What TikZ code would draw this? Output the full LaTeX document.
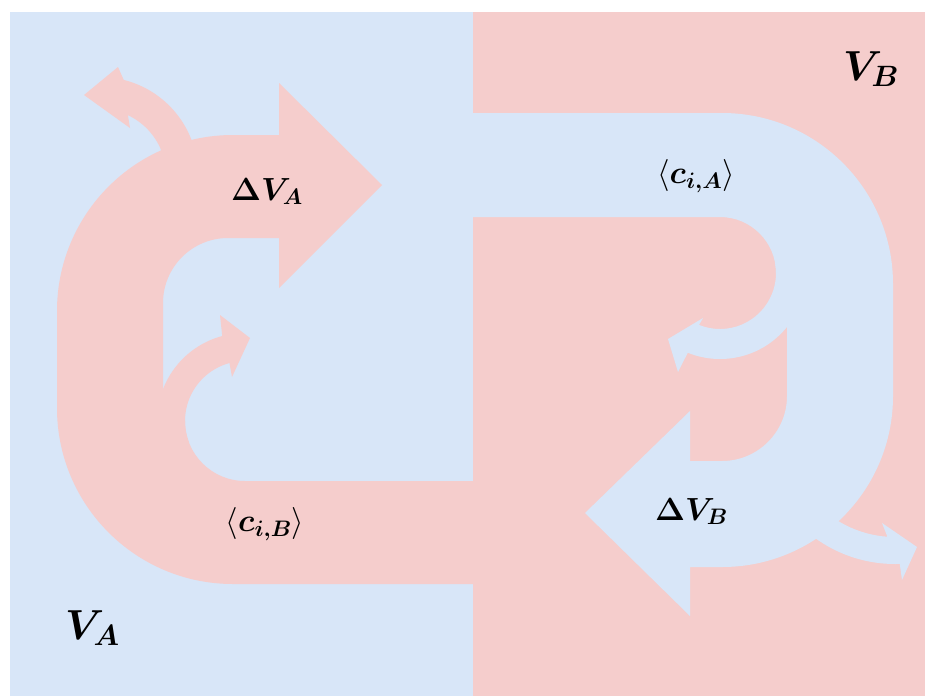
\RequirePackage{fix-cm}
\documentclass[tikz,border=0pt]{standalone}
\usepackage{bm}
\definecolor{pinkfill}{RGB}{245,205,204}
\definecolor{bluefill}{RGB}{216,230,248}

\begin{document}
\begin{tikzpicture}[x=1pt, y=-1pt,
    lab/.style={inner sep=0pt, font=\fontsize{32}{38}\selectfont},
    biglab/.style={inner sep=0pt, font=\fontsize{42}{50}\selectfont}]
    \useasboundingbox (0,0) rectangle (925,696);
    \fill[white] (0,0) rectangle (925,696);
    \fill[bluefill] (10,12) rectangle (473,696);
    \fill[pinkfill] (473,12) rectangle (925,696);

    % centres of the small bent arrows
    \coordinate (tl) at (100,175);
    \coordinate (lc) at (245,421);
    \coordinate (rc) at (720,273);
    \coordinate (br) at (895,428);

    % big loops
    \fill[pinkfill] (473,584) -- (233,584) arc[start angle=90, end angle=180, radius=176] -- (57,311) arc[start angle=180, end angle=270, radius=176] -- (279,135) -- (279,83) -- (382,185) -- (279,288) -- (279,238) -- (228,238) arc[start angle=270, end angle=180, radius=65] -- (163,421) -- (185,421) arc[start angle=180, end angle=90, radius=60] -- (473,481) -- cycle;
    \fill[bluefill] (473,113) -- (722,113) arc[start angle=-90, end angle=0, radius=171] -- (893,396) arc[start angle=0, end angle=90, radius=171] -- (690,567) -- (690,616) -- (585,513) -- (690,411) -- (690,461) -- (722,461) arc[start angle=90, end angle=0, radius=65] -- (787,273) -- (776,273) arc[start angle=0, end angle=-90, radius=56] -- (473,217) -- cycle;

    % small arrows
    \fill[pinkfill] ([shift={(-15:98)}]tl) arc[start angle=-15, end angle=-76, radius=98] -- (118,67) -- (84,95) -- (130,128) -- ([shift={(-65:66)}]tl) arc[start angle=-65, end angle=-15, radius=66] -- cycle;
    \fill[pinkfill] ([shift={(-200:88)}]lc) arc[start angle=-200, end angle=-105, radius=88] -- (220,315) -- (250,338) -- (232,377) -- ([shift={(-105:60)}]lc) arc[start angle=-105, end angle=-200, radius=60] -- cycle;
    \fill[bluefill] ([shift={(-10:86)}]rc) arc[start angle=-10, end angle=112, radius=86] -- (678,372) -- (668,339) -- (703,318) -- ([shift={(112:56)}]rc) arc[start angle=112, end angle=-10, radius=56] -- cycle;
    \fill[bluefill] ([shift={(140:136)}]br) arc[start angle=140, end angle=88, radius=136] -- (902,580) -- (917,547) -- (882,523) -- ([shift={(94:109)}]br) arc[start angle=94, end angle=140, radius=109] -- cycle;

    % labels
    \node[lab, anchor=base west] (dva) at (231,200) {$\bm{\Delta V_A}$};
    \node[lab, anchor=base west] (dvb) at (655,520) {$\bm{\Delta V_B}$};
    \node[lab] (cia) at (696,176) {$\langle\bm{c_{i,A}}\rangle$};
    \node[lab] (cib) at (265,524) {$\langle\bm{c_{i,B}}\rangle$};
    \node[biglab, anchor=base west] (va) at (65,639) {$\bm{V_A}$};
    \node[biglab, anchor=base west] (vb) at (843,80) {$\bm{V_B}$};
\end{tikzpicture}
\end{document}
